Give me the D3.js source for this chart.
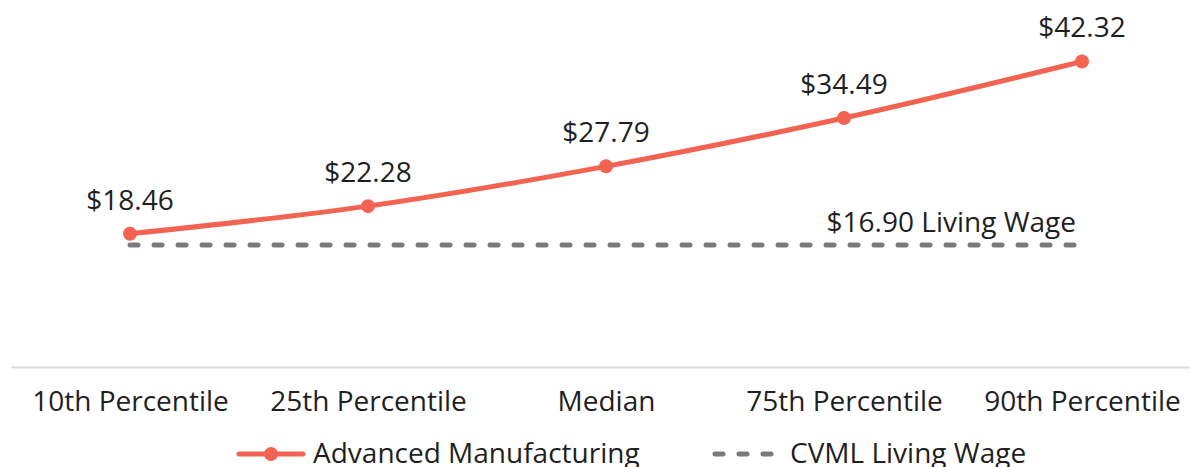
<!DOCTYPE html>
<html>
<head>
<meta charset="utf-8">
<script src="https://cdn.jsdelivr.net/npm/d3@7"></script>
<style>
  body { margin: 0; background: #fff; }
  svg { display: block; font-family: "Open Sans", "Noto Sans", sans-serif; }
</style>
</head>
<body>
<div id="chart"></div>
<script>
// chart data
const categories = ["10th Percentile", "25th Percentile", "Median", "75th Percentile", "90th Percentile"];
const wages = [18.46, 22.28, 27.79, 34.49, 42.32];
const livingWage = [16.90, 16.90, 16.90, 16.90, 16.90];
const seriesNames = ["Advanced Manufacturing", "CVML Living Wage"];

const width = 1190;
const height = 467;
const margin = {left: 11, right: -11, top: 6, bottom: 100};
const lineColor = "#f26451";
const dashColor = "#7a7a7a";
const textColor = "#1f1f1f";
const fontSize = "28px";

const svg = d3.select("#chart")
  .append("svg")
  .attr("width", width)
  .attr("height", height);

// scales
const xScale = d3.scalePoint()
  .domain(categories)
  .range([margin.left, width - margin.right])
  .padding(0.5);

const yScale = d3.scaleLinear()
  .domain([0, 50])
  .range([height - margin.bottom, margin.top]);

// x axis, no ticks
const xAxis = svg.append("g")
  .attr("transform", `translate(0,${yScale(0)})`)
  .call(d3.axisBottom(xScale).tickSize(0).tickPadding(24));
xAxis.select(".domain").attr("stroke", "#d9d9d9").attr("stroke-width", 2);
xAxis.selectAll("text")
  .attr("font-size", fontSize)
  .attr("fill", textColor)
  .attr("font-family", "'Open Sans', sans-serif");

// living wage dashed line
const line = d3.line()
  .x((d, i) => xScale(categories[i]))
  .y(d => yScale(d));

svg.append("path")
  .datum(livingWage)
  .attr("d", line)
  .attr("fill", "none")
  .attr("stroke", dashColor)
  .attr("stroke-width", 5)
  .attr("stroke-linecap", "round")
  .attr("stroke-dasharray", "8,16");

svg.append("text")
  .attr("x", xScale(categories[4]) - 6)
  .attr("y", yScale(livingWage[4]) - 13)
  .attr("text-anchor", "end")
  .attr("font-size", fontSize)
  .attr("fill", textColor)
  .text("$" + livingWage[4].toFixed(2) + " Living Wage");

// wage line
const smooth = d3.line()
  .x((d, i) => xScale(categories[i]))
  .y(d => yScale(d))
  .curve(d3.curveMonotoneX);

svg.append("path")
  .datum(wages)
  .attr("d", smooth)
  .attr("fill", "none")
  .attr("stroke", lineColor)
  .attr("stroke-width", 5)
  .attr("stroke-linecap", "round");

svg.selectAll(".dot")
  .data(wages)
  .enter()
  .append("circle")
  .attr("class", "dot")
  .attr("cx", (d, i) => xScale(categories[i]))
  .attr("cy", d => yScale(d))
  .attr("r", 7)
  .attr("fill", lineColor);

svg.selectAll(".label")
  .data(wages)
  .enter()
  .append("text")
  .attr("class", "label")
  .attr("x", (d, i) => xScale(categories[i]))
  .attr("y", d => yScale(d) - 24)
  .attr("text-anchor", "middle")
  .attr("font-size", fontSize)
  .attr("fill", textColor)
  .text(d => "$" + d.toFixed(2));

// legend
const legendY = 454;
const leg1 = svg.append("g").attr("transform", `translate(237,${legendY})`);
leg1.append("line")
  .attr("x1", 2).attr("x2", 66)
  .attr("stroke", lineColor).attr("stroke-width", 5).attr("stroke-linecap", "round");
leg1.append("circle").attr("cx", 34).attr("r", 7).attr("fill", lineColor);
leg1.append("text")
  .attr("x", 76).attr("y", 9)
  .attr("font-size", fontSize).attr("fill", textColor)
  .text(seriesNames[0]);

const leg2 = svg.append("g").attr("transform", `translate(712,${legendY})`);
leg2.append("line")
  .attr("x1", 3).attr("x2", 66)
  .attr("stroke", dashColor).attr("stroke-width", 5).attr("stroke-linecap", "round")
  .attr("stroke-dasharray", "8,16");
leg2.append("text")
  .attr("x", 78).attr("y", 9)
  .attr("font-size", fontSize).attr("fill", textColor)
  .text(seriesNames[1]);
</script>
</body>
</html>
